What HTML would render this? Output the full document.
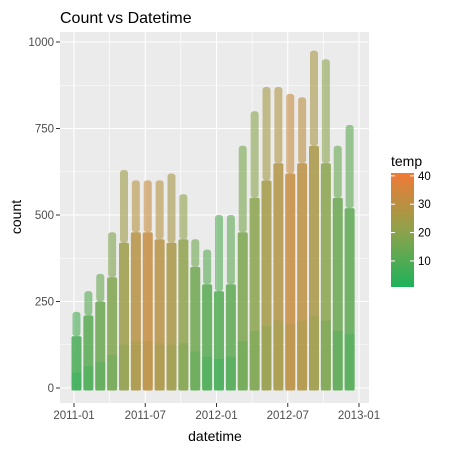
<!DOCTYPE html>
<html><head><meta charset="utf-8"><style>
body{margin:0;background:#fff}
svg{display:block;font-family:"Liberation Sans",Arial,sans-serif}
</style></head><body>
<svg id="chart" width="450" height="450" viewBox="0 0 450 450">
<defs>
<linearGradient id="cbar" x1="0" y1="1" x2="0" y2="0">
<stop offset="0" stop-color="#1db25a"/><stop offset="0.5" stop-color="#8fa24b"/><stop offset="1" stop-color="#f07a36"/>
</linearGradient>
</defs>
<text x="60" y="23" font-size="16" fill="#000">Count vs Datetime</text>
<rect x="60" y="32" width="309" height="371" fill="#ebebeb"/>
<g id="grid"></g>
<g id="marks"></g>
<g id="axes"></g>
<text x="215" y="441" font-size="14" text-anchor="middle" fill="#000">datetime</text>
<text x="0" y="0" font-size="14" text-anchor="middle" fill="#000" transform="translate(21,217) rotate(-90)">count</text>
<g>
<text x="391" y="166" font-size="14" fill="#000">temp</text>
<rect x="391" y="173" width="23" height="114" fill="url(#cbar)"/>
<g id="legend-ticks"></g>
</g>
</svg>
<script>
const monthLabels = ["2011-01","2011-02","2011-03","2011-04","2011-05","2011-06","2011-07","2011-08","2011-09","2011-10","2011-11","2011-12","2012-01","2012-02","2012-03","2012-04","2012-05","2012-06","2012-07","2012-08","2012-09","2012-10","2012-11","2012-12"];
const maxCount = [220,280,330,450,630,600,600,600,620,560,430,400,500,500,700,800,870,870,850,840,975,950,700,760];
const denseCount = [150,210,250,320,420,450,450,430,420,430,350,300,280,300,450,550,600,650,620,650,700,650,550,520];
const meanTemp = [8,11,14,18,24,29,32,29,26,21,15,11,10,12,17,20,25,28,32,30,26,20,14,12];
const xTicks = ["2011-01","2011-07","2012-01","2012-07","2013-01"];
const yTicks = [0,250,500,750,1000];
const legendTicks = [10,20,30,40];

const NS="http://www.w3.org/2000/svg";
function mk(tag,attrs,parent){const e=document.createElementNS(NS,tag);for(const k in attrs)e.setAttribute(k,attrs[k]);parent.appendChild(e);return e;}
function monthIndex(s){const [y,m]=s.split("-").map(Number);return (y-2011)*12+(m-1);}
function xScale(mi){return 74+mi*(359-74)/24;}
function yScale(v){return 388-v*(346/1000);}
function tScale(t){return 287-(t-0.8)*(114/40.2);}
function tempColor(t){
  const f=Math.max(0,Math.min(1,(t-0.8)/40.2));
  const a=[29,178,90],b=[143,162,75],c=[240,122,54];
  let p,q,g;if(f<0.5){p=a;q=b;g=f*2;}else{p=b;q=c;g=(f-0.5)*2;}
  return "rgb("+p.map((v,i)=>Math.round(v+(q[i]-v)*g)).join(",")+")";
}
const grid=document.getElementById("grid"),marks=document.getElementById("marks"),axes=document.getElementById("axes");
[125,375,625,875].forEach(v=>{const l=mk("line",{x1:60,x2:369,y1:yScale(v),y2:yScale(v),stroke:"#fff","stroke-width":0.6},grid);

});
[3,9,15,21].forEach(m=>{const l=mk("line",{x1:xScale(m),x2:xScale(m),y1:32,y2:403,stroke:"#fff","stroke-width":0.6},grid);

});
yTicks.forEach(v=>{const y=yScale(v);
const l=mk("line",{x1:60,x2:369,y1:y,y2:y,stroke:"#fff","stroke-width":1.1},grid);


const t=mk("line",{x1:56,x2:60,y1:y,y2:y,stroke:"#333","stroke-width":1},axes);


const tx=mk("text",{x:54,y:y+4,"font-size":11.5,"text-anchor":"end",fill:"#4d4d4d"},axes);tx.textContent=v;

});
xTicks.forEach(s=>{const x=xScale(monthIndex(s));
const l=mk("line",{x1:x,x2:x,y1:32,y2:403,stroke:"#fff","stroke-width":1.1},grid);


const t=mk("line",{x1:x,x2:x,y1:403,y2:407,stroke:"#333","stroke-width":1},axes);


const tx=mk("text",{x:x,y:419,"font-size":11.5,"text-anchor":"middle",fill:"#4d4d4d"},axes);tx.textContent=s;

});
monthLabels.forEach((s,i)=>{
  const x0=xScale(monthIndex(s))-2.5, w=10;
  const col=tempColor(meanTemp[i]);
  const low=tempColor(Math.max(1,meanTemp[i]-6));
  const r1=mk("rect",{x:x0+1,y:yScale(maxCount[i]),width:w-2,height:yScale(denseCount[i])-yScale(maxCount[i]),fill:col,opacity:0.6,rx:3},marks);
  
  
  const r2=mk("rect",{x:x0,y:yScale(denseCount[i]),width:w,height:yScale(0)-yScale(denseCount[i])+2.5,fill:col,opacity:0.85,rx:2},marks);
  
  
  const r3=mk("rect",{x:x0,y:yScale(denseCount[i]*0.3),width:w,height:yScale(0)-yScale(denseCount[i]*0.3)+2.5,fill:low,opacity:0.35},marks);
  
  
});
const lt=document.getElementById("legend-ticks");
legendTicks.forEach(v=>{const y=tScale(v);
const a=mk("line",{x1:391,x2:395,y1:y,y2:y,stroke:"#fff"},lt);


const b=mk("line",{x1:410,x2:414,y1:y,y2:y,stroke:"#fff"},lt);


const tx=mk("text",{x:418,y:y+4,"font-size":11.5,fill:"#000"},lt);tx.textContent=v;

});
</script>
</body></html>
